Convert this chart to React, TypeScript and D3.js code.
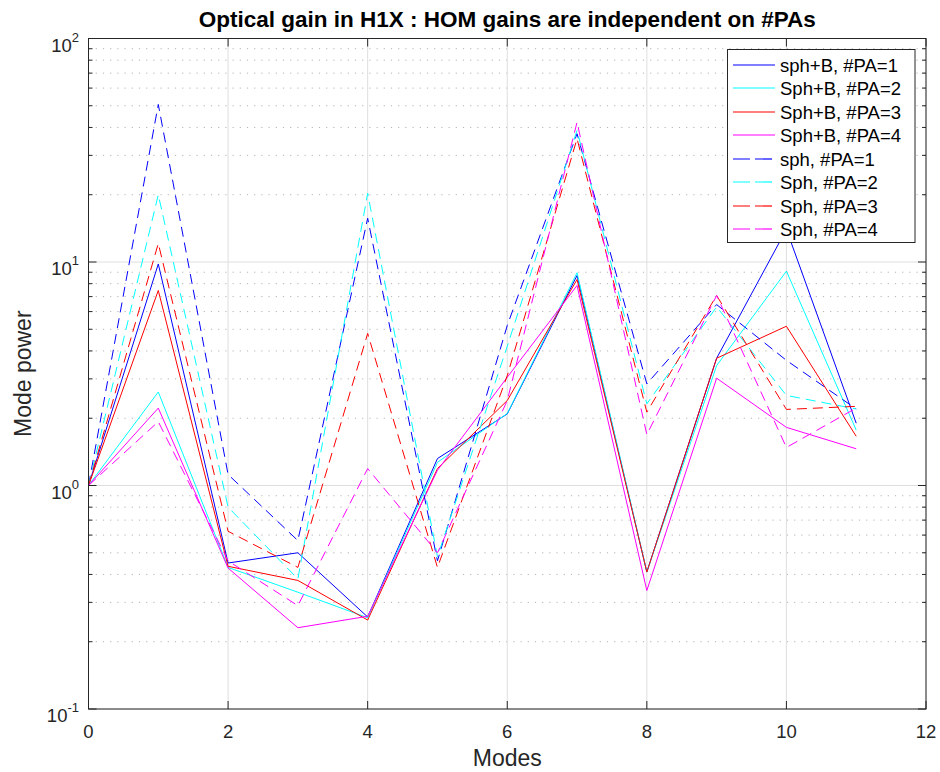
import React from "react";
import * as d3 from "d3";

const modes = [0, 1, 2, 3, 4, 5, 6, 7, 8, 9, 10, 11];

const sphB_PA1 = [1, 9.8, 0.45, 0.5, 0.258, 1.32, 2.09, 8.7, 0.41, 3.71, 14.0, 1.9];
const sphB_PA2 = [1, 2.62, 0.43, 0.333, 0.256, 1.27, 2.1, 8.95, 0.41, 3.44, 9.1, 1.77];
const sphB_PA3 = [1, 7.46, 0.435, 0.376, 0.25, 1.19, 2.4, 8.35, 0.41, 3.71, 5.16, 1.66];
const sphB_PA4 = [1, 2.22, 0.427, 0.231, 0.26, 1.17, 3.05, 7.85, 0.339, 3.02, 1.82, 1.46];
const sph_PA1 = [1, 50.7, 1.12, 0.567, 15.7, 0.46, 5.2, 37.5, 2.85, 6.45, 3.63, 2.2];
const sph_PA2 = [1, 20.0, 0.8, 0.382, 20.3, 0.48, 4.2, 38.8, 2.32, 6.3, 2.53, 2.2];
const sph_PA3 = [1, 12.1, 0.624, 0.43, 4.79, 0.43, 3.1, 35.6, 2.13, 7.08, 2.19, 2.26];
const sph_PA4 = [1, 1.93, 0.46, 0.29, 1.19, 0.5, 2.4, 42.2, 1.69, 7.08, 1.48, 2.22];

const seriesNames = [
  "sph+B, #PA=1",
  "Sph+B, #PA=2",
  "Sph+B, #PA=3",
  "Sph+B, #PA=4",
  "sph, #PA=1",
  "Sph, #PA=2",
  "Sph, #PA=3",
  "Sph, #PA=4",
];
const seriesValues = [sphB_PA1, sphB_PA2, sphB_PA3, sphB_PA4, sph_PA1, sph_PA2, sph_PA3, sph_PA4];
const seriesColors = ["#0000ff", "#00ffff", "#ff0000", "#ff00ff", "#0000ff", "#00ffff", "#ff0000", "#ff00ff"];
const seriesDashed = [false, false, false, false, true, true, true, true];

const xTicks = [0, 2, 4, 6, 8, 10, 12];
const yDecades = [-1, 0, 1, 2];

const titleText = "Optical gain in H1X : HOM gains are independent on #PAs";
const xLabel = "Modes";
const yLabel = "Mode power";

const W = 940;
const H = 772;
const L = 88.5;
const R = 926;
const T = 38.5;
const B = 709;

export default function App() {
  const x = d3.scaleLinear().domain([0, 12]).range([L, R]);
  const y = d3.scaleLog().domain([0.1, 100]).range([B, T]);
  const line = d3
    .line<number>()
    .x((_, i) => x(modes[i]))
    .y((d) => y(d));

  const minor: number[] = [];
  for (let e = -1; e < 2; e++) {
    for (let k = 2; k <= 9; k++) minor.push(k * Math.pow(10, e));
  }

  const axisColor = "#262626";
  const font = "'Liberation Sans', Arial, Helvetica, sans-serif";

  const legX = 727.5;
  const legY = 49.5;
  const legW = 187.5;
  const legH = 193;

  return (
    <div style={{ position: "fixed", left: 0, top: 0, width: W, height: H, background: "#fff" }}>
      <svg width={W} height={H} style={{ display: "block", fontFamily: font }}>
        <rect x={0} y={0} width={W} height={H} fill="#fff" />
        {/* minor grid */}
        {minor.map((v, i) => (
          <line key={"mg" + i} x1={L} x2={R} y1={y(v)} y2={y(v)} stroke="#b4b4b4" strokeWidth={1} strokeDasharray="1.2,6" />
        ))}
        {/* major grid */}
        {yDecades.map((e) => (
          <line key={"yg" + e} x1={L} x2={R} y1={y(Math.pow(10, e))} y2={y(Math.pow(10, e))} stroke="#dedede" strokeWidth={1} />
        ))}
        {xTicks.map((t) => (
          <line key={"xg" + t} x1={x(t)} x2={x(t)} y1={T} y2={B} stroke="#dedede" strokeWidth={1} />
        ))}
        <defs>
          <clipPath id="clip">
            <rect x={L} y={T} width={R - L} height={B - T} />
          </clipPath>
        </defs>
        {/* series */}
        <g fill="none" clipPath="url(#clip)">
          {seriesValues.map((vals, i) => (
            <path
              key={"s" + i}
              d={line(vals) || ""}
              stroke={seriesColors[i]}
              strokeWidth={1}
              strokeDasharray={seriesDashed[i] ? "10,6" : undefined}
            />
          ))}
        </g>
        {/* axes box */}
        <rect x={L} y={T} width={R - L} height={B - T} fill="none" stroke={axisColor} strokeWidth={1} />
        {/* y ticks */}
        {yDecades.map((e) => (
          <g key={"yt" + e}>
            <line x1={L} x2={L + 8} y1={y(Math.pow(10, e))} y2={y(Math.pow(10, e))} stroke={axisColor} />
            <line x1={R} x2={R - 8} y1={y(Math.pow(10, e))} y2={y(Math.pow(10, e))} stroke={axisColor} />
            <text x={79} y={y(Math.pow(10, e)) + 13} textAnchor="end" fontSize={18.5} fill={axisColor}>
              10
              <tspan dy={-10} fontSize={13}>
                {String(e)}
              </tspan>
            </text>
          </g>
        ))}
        {minor.map((v, i) => (
          <g key={"ymt" + i}>
            <line x1={L} x2={L + 4} y1={y(v)} y2={y(v)} stroke={axisColor} />
            <line x1={R} x2={R - 4} y1={y(v)} y2={y(v)} stroke={axisColor} />
          </g>
        ))}
        {/* x ticks */}
        {xTicks.map((t) => (
          <g key={"xt" + t}>
            <line x1={x(t)} x2={x(t)} y1={B} y2={B - 8} stroke={axisColor} />
            <line x1={x(t)} x2={x(t)} y1={T} y2={T + 8} stroke={axisColor} />
            <text x={x(t)} y={738} textAnchor="middle" fontSize={18.5} fill={axisColor}>
              {t}
            </text>
          </g>
        ))}
        {/* labels */}
        <text x={(L + R) / 2} y={766} textAnchor="middle" fontSize={23} fill={axisColor}>
          {xLabel}
        </text>
        <text
          transform={`translate(31, ${(T + B) / 2}) rotate(-90)`}
          textAnchor="middle"
          fontSize={23}
          fill={axisColor}
        >
          {yLabel}
        </text>
        <text x={(L + R) / 2} y={27} textAnchor="middle" fontSize={22.5} fontWeight="bold" fill="#000">
          {titleText}
        </text>
        {/* legend */}
        <rect x={legX} y={legY} width={legW} height={legH} fill="#fff" stroke={axisColor} strokeWidth={1} />
        {seriesNames.map((name, i) => {
          const ry = Math.round(64.5 + i * 23.5);
          return (
            <g key={"lg" + i}>
              <line
                x1={733}
                x2={775}
                y1={ry}
                y2={ry}
                stroke={seriesColors[i]}
                strokeWidth={1.2}
                strokeDasharray={seriesDashed[i] ? "17,5" : undefined}
              />
              <text x={780} y={ry + 6.5} fontSize={18.5} fill="#000">
                {name}
              </text>
            </g>
          );
        })}
      </svg>
    </div>
  );
}
